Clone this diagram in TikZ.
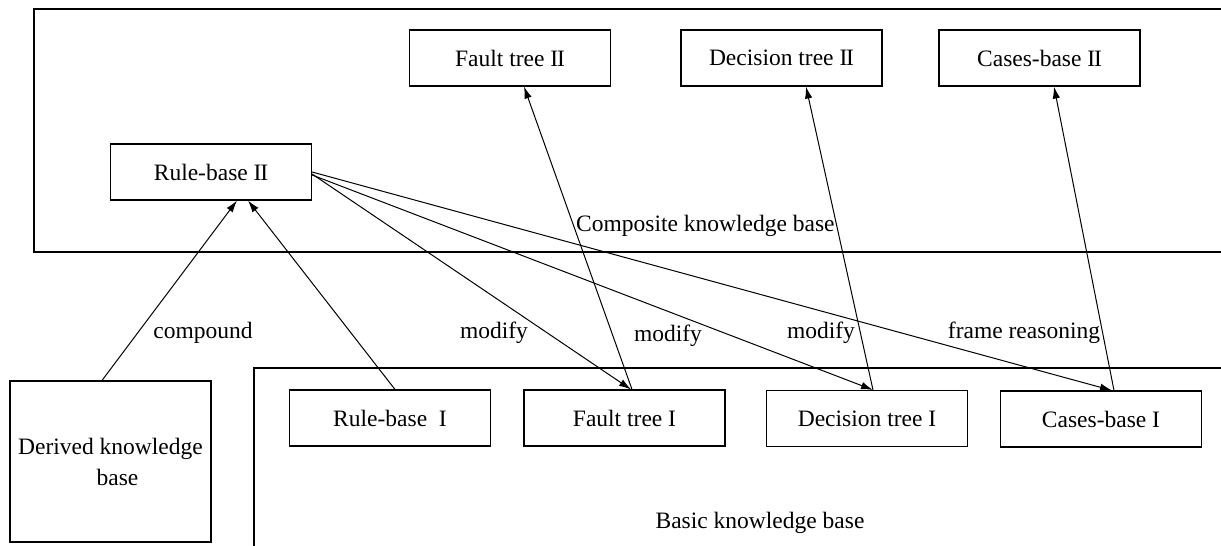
\documentclass[tikz,border=0pt]{standalone}
\usepackage{fontspec}
\setmainfont{Liberation Serif}
\usetikzlibrary{arrows.meta,calc}
\newcommand\kbfont{\fontsize{23.5}{33}\selectfont}
\newcommand\romI{I}
\newcommand\romII{I\kern-1.2pt I}
\begin{document}
\begin{tikzpicture}[x=1pt,y=-1pt,
  kbox/.style={draw, line width=1.1pt, minimum width=201pt, minimum height=56pt,
               inner sep=0pt, font=\kbfont},
  frameline/.style={line width=1.1pt},
  link/.style={line width=1pt, -{Latex[length=12pt,width=7.5pt]}},
  lbl/.style={font=\kbfont, inner sep=0pt}]
\useasboundingbox (0,0) rectangle (1221,546);

% enclosing frames (open to the right)
\draw[frameline] (1221,9) -- (34,9) -- (34,252) -- (1221,252);
\draw[frameline] (1221,368) -- (254,368) -- (254,546);

% composite knowledge base
\node[kbox] (ft2) at (510,58)    {Fault tree \romII};
\node[kbox] (dt2) at (781.5,58)  {Decision tree \romII};
\node[kbox] (cb2) at (1039.5,58) {Cases-base \romII};
\node[kbox] (rb2) at (211,172)   {Rule-base \romII};
\node[lbl, anchor=west] (comp) at (576,226) {Composite knowledge base};

% basic knowledge base
\node[kbox] (rb1) at (390,418)   {Rule-base \ \romI};
\node[kbox] (ft1) at (624.5,418) {Fault tree \romI};
\node[kbox] (dt1) at (867,418.5) {Decision tree \romI};
\node[kbox] (cb1) at (1101,419)  {Cases-base \romI};
\node[lbl] (basic) at (760,523) {Basic knowledge base};

% derived knowledge base
\node[draw, line width=1.1pt, minimum width=201pt, minimum height=161pt,
      inner sep=0pt, font=\kbfont, align=center] (dkb) at (110.5,461.5)
      {Derived knowledge\\[-2pt]\hspace*{14pt}base};

% connectors
\draw[link] ([xshift=-8.5pt]dkb.north) -- ([xshift=26pt]rb2.south);
\draw[link] ([xshift=5pt]rb1.north) -- ([xshift=37pt]rb2.south);
\draw[link] ([yshift=-2pt]rb2.east) -- ([xshift=6.5pt]ft1.north);
\draw[link] ([yshift=-3pt]rb2.east) -- ([xshift=6pt]dt1.north);
\draw[link] ([yshift=0pt]rb2.east) -- ([xshift=11pt]cb1.north);
\draw[link] ([xshift=7.5pt]ft1.north) -- ([xshift=14pt]ft2.south);
\draw[link] ([xshift=6pt]dt1.north) -- ([xshift=24.5pt]dt2.south);
\draw[link] ([xshift=13pt]cb1.north) -- ([xshift=14.5pt]cb2.south);

% connector labels
\node[lbl] (lcomp) at (203,333) {compound};
\node[lbl] (lmod1) at (494,333) {modify};
\node[lbl] (lmod2) at (668,336) {modify};
\node[lbl] (lmod3) at (821,333) {modify};
\node[lbl] (lframe) at (1024,333) {frame reasoning};
\end{tikzpicture}
\end{document}
